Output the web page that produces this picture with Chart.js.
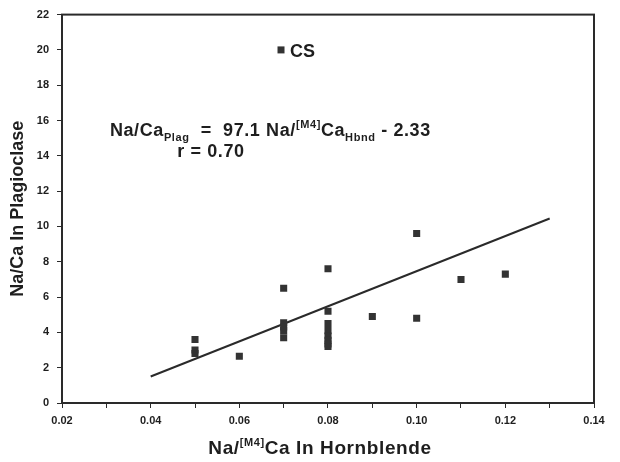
<!DOCTYPE html>
<html>
<head>
<meta charset="utf-8">
<script src="https://cdn.jsdelivr.net/npm/chart.js@4.4.1/dist/chart.umd.min.js"></script>
<style>
  html, body { margin: 0; padding: 0; background: #fff; }
  #wrap { width: 620px; height: 462px; }
</style>
</head>
<body>
<div id="wrap"><canvas id="chart" width="620" height="462"></canvas></div>
<script>
// CS samples: Na/[M4]Ca in hornblende vs Na/Ca in plagioclase
var CS_X = [0.05, 0.05, 0.05, 0.06, 0.07, 0.07, 0.07, 0.07, 0.07,
            0.08, 0.08, 0.08, 0.08, 0.08, 0.08, 0.08, 0.08,
            0.09, 0.10, 0.10, 0.11, 0.12];
var CS_Y = [3.6, 3.0, 2.8, 2.65, 6.5, 4.55, 4.3, 4.1, 3.7,
            7.6, 5.2, 4.5, 4.1, 3.8, 3.55, 3.35, 3.2,
            4.9, 9.6, 4.8, 7.0, 7.3];

// regression line end points
var FIT_X = [0.04, 0.13];
var FIT_Y = [1.5, 10.45];

var X_MIN = 0.02, X_MAX = 0.14, X_STEP = 0.01;
var Y_MIN = 0, Y_MAX = 22, Y_STEP = 2;

var LEGEND_LABEL = 'CS';
var X_TITLE = [['Na/', 0], ['[M4]', 1], ['Ca In Hornblende', 0]];
var Y_TITLE = 'Na/Ca In Plagioclase';
var EQ_LINE1 = [['Na/Ca', 0], ['Plag', -1], ['  =  97.1 Na/', 0], ['[M4]', 1], ['Ca', 0], ['Hbnd', -1], [' - 2.33', 0]];
var EQ_LINE2 = [['r = 0.70', 0]];

var INK = '#1e1e1e';
var FONT = 'Liberation Sans, Arial, sans-serif';

function toPoints(xs, ys) {
  return xs.map(function (x, i) { return { x: x, y: ys[i] }; });
}

// draws text with sub/superscript parts at baseline y
function richText(ctx, parts, x, y, size, align, spacing) {
  var small = Math.round(size * 0.6);
  ctx.letterSpacing = (spacing || 0) + 'px';
  var w = 0;
  parts.forEach(function (p) {
    ctx.font = 'bold ' + (p[1] ? small : size) + 'px ' + FONT;
    w += ctx.measureText(p[0]).width;
  });
  var cx = align === 'center' ? x - w / 2 : x;
  parts.forEach(function (p) {
    ctx.font = 'bold ' + (p[1] ? small : size) + 'px ' + FONT;
    var dy = p[1] === 1 ? -size * 0.4 : (p[1] === -1 ? size * 0.3 : 0);
    ctx.fillText(p[0], cx, y + dy);
    cx += ctx.measureText(p[0]).width;
  });
  ctx.letterSpacing = '0px';
}

var extras = {
  id: 'extras',
  afterDraw: function (chart) {
    var ctx = chart.ctx;
    var a = chart.chartArea;
    var xs = chart.scales.x, ys = chart.scales.y;
    ctx.save();
    // frame
    ctx.strokeStyle = '#2a2a2a';
    ctx.lineWidth = 2;
    ctx.strokeRect(a.left, a.top, a.right - a.left, a.bottom - a.top);

    ctx.fillStyle = INK;
    ctx.textBaseline = 'alphabetic';
    ctx.textAlign = 'left';

    // legend
    var lx = xs.getPixelForValue(0.0694), ly = ys.getPixelForValue(20);
    ctx.fillStyle = '#333';
    ctx.fillRect(lx - 3.5, ly - 3.5, 7, 7);
    ctx.fillStyle = INK;
    ctx.font = 'bold 18px ' + FONT;
    ctx.fillText(LEGEND_LABEL, lx + 9, ly + 7);

    // equation
    richText(ctx, EQ_LINE1, xs.getPixelForValue(0.0308), ys.getPixelForValue(15.15), 18, 'left', 0.6);
    richText(ctx, EQ_LINE2, xs.getPixelForValue(0.0460), ys.getPixelForValue(13.95), 18, 'left', 0.6);

    // x title
    richText(ctx, X_TITLE, (a.left + a.right) / 2 - 8, 454, 19, 'center', 0.6);
    ctx.restore();
  }
};

new Chart(document.getElementById('chart'), {
  type: 'scatter',
  data: {
    datasets: [
      {
        label: 'fit',
        type: 'line',
        data: toPoints(FIT_X, FIT_Y),
        borderColor: '#2a2a2a',
        borderWidth: 2,
        pointRadius: 0,
        fill: false,
        order: 2
      },
      {
        label: LEGEND_LABEL,
        data: toPoints(CS_X, CS_Y),
        pointStyle: 'rect',
        pointRadius: 5,
        backgroundColor: '#333',
        borderColor: '#333',
        borderWidth: 0,
        order: 1
      }
    ]
  },
  options: {
    responsive: false,
    animation: false,
    layout: { padding: { left: 0, top: 12, right: 26, bottom: 0 } },
    plugins: {
      legend: { display: false },
      tooltip: { enabled: false }
    },
    scales: {
      x: {
        type: 'linear',
        min: X_MIN,
        max: X_MAX,
        afterFit: function (s) { s.height = 59; },
        border: { display: true, color: '#2a2a2a', width: 2 },
        grid: { drawOnChartArea: false, drawTicks: true, tickLength: 5, color: '#2a2a2a', lineWidth: 1 },
        ticks: {
          stepSize: X_STEP,
          autoSkip: false,
          maxRotation: 0,
          padding: 6,
          color: INK,
          font: { family: FONT, size: 11, weight: 'bold' },
          callback: function (v) {
            var k = Math.round(v * 100);
            return k % 2 === 0 ? (k / 100).toFixed(2) : '';
          }
        }
      },
      y: {
        type: 'linear',
        min: Y_MIN,
        max: Y_MAX,
        afterFit: function (s) { s.width = 62; },
        border: { display: true, color: '#2a2a2a', width: 2 },
        grid: { drawOnChartArea: false, drawTicks: true, tickLength: 5, color: '#2a2a2a', lineWidth: 1 },
        title: {
          display: true,
          text: Y_TITLE,
          color: INK,
          font: { family: FONT, size: 18, weight: 'bold' },
          padding: { top: 7, bottom: 0 }
        },
        ticks: {
          stepSize: Y_STEP,
          padding: 8,
          color: INK,
          font: { family: FONT, size: 11, weight: 'bold' }
        }
      }
    }
  },
  plugins: [extras]
});
</script>
</body>
</html>
